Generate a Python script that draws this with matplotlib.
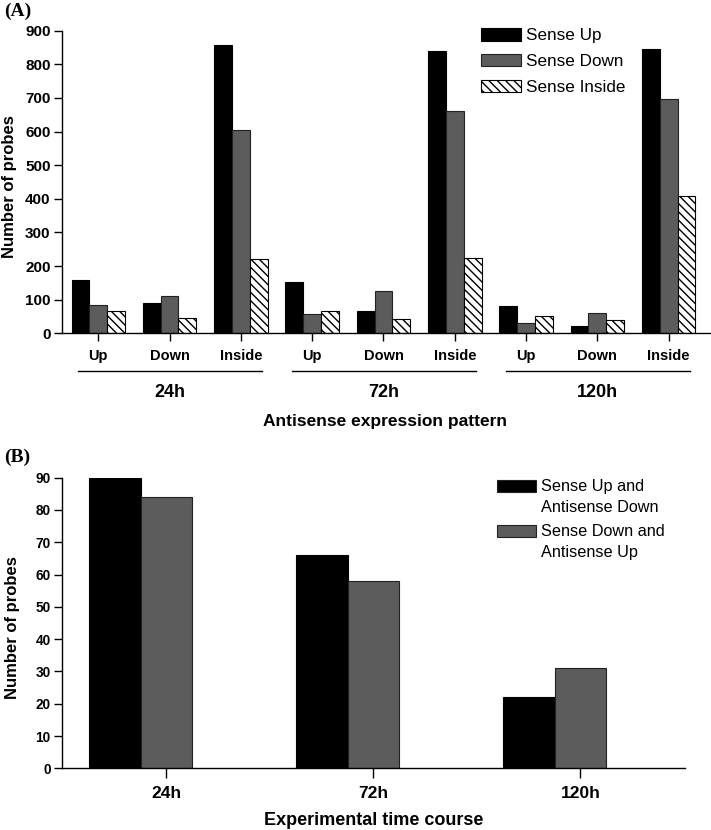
import matplotlib
matplotlib.use("Agg")
import matplotlib.pyplot as plt
import matplotlib.transforms as mtransforms
import numpy as np
from matplotlib.patches import Rectangle

# data
timepoints = ['24h', '72h', '120h']
antisense = ['Up', 'Down', 'Inside']
sense_up = [160, 90, 858, 153, 66, 840, 80, 22, 846]
sense_down = [85, 112, 605, 58, 127, 660, 32, 60, 697]
sense_inside = [65, 45, 222, 65, 42, 225, 52, 40, 407]

up_anti_down = [90, 66, 22]
down_anti_up = [84, 58, 31]
b_labels = [['Sense Up and', 'Antisense Down'], ['Sense Down and', 'Antisense Up']]

plt.rcParams['font.family'] = ['Liberation Sans', 'DejaVu Sans']
plt.rcParams['hatch.linewidth'] = 1.0
plt.rcParams['axes.linewidth'] = 1.0

BLACK = '#000000'
GRAY = '#5c5c5c'

fig = plt.figure(figsize=(7.11, 8.30), dpi=100)
W, H = 711.0, 830.0

# ---------------- panel A
axA = fig.add_axes([61.7 / W, 1 - 333.3 / H, (711 - 61.7) / W, 302.6 / H])
x = np.arange(len(sense_up))
w = 0.25
axA.bar(x - w, sense_up, w, color=BLACK, edgecolor=BLACK, lw=0.8, label='Sense Up')
axA.bar(x, sense_down, w, color=GRAY, edgecolor='#222222', lw=0.8, label='Sense Down')
axA.bar(x + w, sense_inside, w, color='white', edgecolor=BLACK, lw=0.8,
        hatch='\\\\\\\\', label='Sense Inside')
axA.set_xlim(-0.513, 8.593)
axA.set_ylim(0, 900)
axA.set_yticks(range(0, 901, 100))
axA.set_xticks(x)
axA.set_xticklabels(antisense * len(timepoints))
for s in ['top', 'right']:
    axA.spines[s].set_visible(False)
axA.tick_params(axis='y', direction='out', length=5.5, width=1, pad=2.5, labelsize=11)
axA.tick_params(axis='x', direction='out', length=6, width=1, pad=5, labelsize=10.5)
for t in axA.get_yticklabels() + axA.get_xticklabels():
    t.set_fontweight('bold')

tr = mtransforms.blended_transform_factory(axA.transData, axA.transAxes)
for g, name in enumerate(timepoints):
    axA.plot([3 * g - 0.28, 3 * g + 2.3], [-0.1246, -0.1246], color=BLACK, lw=1,
             transform=tr, clip_on=False)
    axA.text(3 * g + 1, -0.194, name, transform=tr, ha='center', va='center',
             fontsize=13, fontweight='bold')
axA.text(4.02, -0.29, 'Antisense expression pattern', transform=tr, ha='center',
         va='center', fontsize=12.5, fontweight='bold')

axA.legend(loc='upper left', bbox_to_anchor=(481 / W, 1 - 28 / H),
           bbox_transform=fig.transFigure, frameon=False, fontsize=12.3,
           handlelength=2.35, handleheight=0.75, handletextpad=0.3,
           labelspacing=0.62, borderpad=0, borderaxespad=0)

fig.text(9.5 / W, 1 - 186.5 / H, 'Number of probes', rotation=90,
         ha='center', va='center', fontsize=12, fontweight='bold')
fig.text(4 / W, 1 - 3 / H, '(A)', ha='left', va='top', fontsize=14,
         fontweight='bold', family=['Liberation Serif', 'DejaVu Serif'])

# ---------------- panel B
axB = fig.add_axes([61.7 / W, 1 - 768.3 / H, (685 - 61.7) / W, 290.6 / H])
xb = np.arange(len(timepoints))
axB.bar(xb - w, up_anti_down, w, color=BLACK, edgecolor=BLACK, lw=0.8)
axB.bar(xb, down_anti_up, w, color=GRAY, edgecolor='#222222', lw=0.8)
axB.set_xlim(-0.506, 2.505)
axB.set_ylim(0, 90)
axB.set_yticks(range(0, 91, 10))
axB.set_xticks(xb)
axB.set_xticklabels(timepoints)
for s in ['top', 'right']:
    axB.spines[s].set_visible(False)
axB.tick_params(axis='y', direction='out', length=5.5, width=1, pad=2.5, labelsize=9.8)
axB.tick_params(axis='x', direction='out', length=7, width=1, pad=6, labelsize=12.5)
for t in axB.get_yticklabels() + axB.get_xticklabels():
    t.set_fontweight('bold')
axB.set_xlabel('Experimental time course', fontsize=13, fontweight='bold', labelpad=8)

# legend for panel B: handle beside the first line of a two-line label
for i, (col, lines) in enumerate(zip([BLACK, GRAY], b_labels)):
    ytop = 480.5 + i * 44.5
    fig.patches.append(Rectangle((497 / W, 1 - (ytop + 11.5) / H), 39 / W, 11.5 / H,
                                 transform=fig.transFigure, facecolor=col,
                                 edgecolor='#222222', lw=0.8))
    for j, line in enumerate(lines):
        fig.text(541 / W, 1 - (ytop + 6 + j * 21.5) / H, line, ha='left',
                 va='center', fontsize=11.7)

fig.text(13 / W, 1 - 628 / H, 'Number of probes', rotation=90,
         ha='center', va='center', fontsize=12, fontweight='bold')
fig.text(4 / W, 1 - 449 / H, '(B)', ha='left', va='top', fontsize=14,
         fontweight='bold', family=['Liberation Serif', 'DejaVu Serif'])

fig.savefig('out.png', dpi=100)
